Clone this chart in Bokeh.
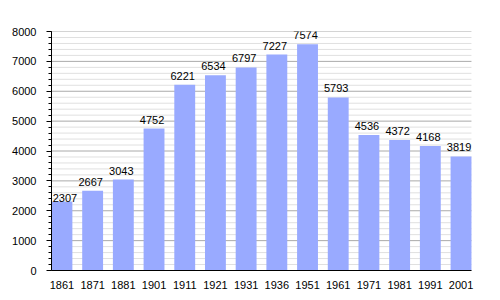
from bokeh.plotting import figure
from bokeh.models import ColumnDataSource, Range1d, FixedTicker, LabelSet
from bokeh.core.properties import value
from bokeh.embed import file_html
from bokeh.resources import INLINE

years = ["1861", "1871", "1881", "1901", "1911", "1921", "1931", "1936", "1951", "1961", "1971", "1981", "1991", "2001"]
population = [2307, 2667, 3043, 4752, 6221, 6534, 6797, 7227, 7574, 5793, 4536, 4372, 4168, 3819]
y_ticks = [0, 1000, 2000, 3000, 4000, 5000, 6000, 7000, 8000]
y_minor = [v for v in range(0, 8001, 200) if v % 1000 != 0]

BAR_W = 0.68
PAD = 0.49  # extra room at right so the last label is not clipped
xs = list(range(len(years)))
x_lo, x_hi = -BAR_W / 2, len(years) - 1 + BAR_W / 2

# first label is nudged inside the plot area (as in the original), others sit slightly left/above
dx = [3 if i == 0 else -2 for i in xs]
dy = [0 if i == 0 else 5 for i in xs]
src = ColumnDataSource(dict(x=xs, top=population, label=[str(v) for v in population], dx=dx, dy=dy))

p = figure(width=500, height=300, output_backend="svg", toolbar_location=None,
           x_range=Range1d(x_lo, x_hi + PAD),
           y_range=Range1d(0, 8000),
           min_border_left=51, min_border_right=14, min_border_top=31, min_border_bottom=30)
p.outline_line_color = None
p.background_fill_color = "white"
p.xgrid.grid_line_color = None
p.ygrid.grid_line_color = None

# grid lines limited to the bar area
p.segment(x0=[x_lo] * len(y_minor), x1=[x_hi] * len(y_minor), y0=y_minor, y1=y_minor,
          line_color="#e0e0e0", line_width=1)
p.segment(x0=[x_lo] * len(y_ticks), x1=[x_hi] * len(y_ticks), y0=y_ticks, y1=y_ticks,
          line_color="#aaaaaa", line_width=1)

p.vbar(x="x", top="top", width=BAR_W, bottom=0, source=src,
       fill_color="#99aaff", line_color=None)

labels = LabelSet(x="x", y="top", text="label", source=src, text_align="center",
                  text_baseline="bottom", y_offset="dy", x_offset="dx",
                  text_font=value("Liberation Sans"), text_font_size="11px", text_color="black")
p.add_layout(labels)

# y axis
p.yaxis.ticker = FixedTicker(ticks=y_ticks, minor_ticks=list(range(0, 8001, 200)))
p.yaxis.major_label_text_font = "Liberation Sans"
p.yaxis.major_label_text_font_size = "11px"
p.yaxis.major_label_text_color = "black"
p.yaxis.axis_line_color = "black"
p.yaxis.major_tick_in = 0
p.yaxis.major_tick_out = 5
p.yaxis.minor_tick_in = 0
p.yaxis.minor_tick_out = 3
p.yaxis.major_label_standoff = 10

# x axis
p.xaxis.ticker = FixedTicker(ticks=xs)
p.xaxis.bounds = (x_lo, x_hi)
p.xaxis.major_label_overrides = {i: y for i, y in enumerate(years)}
p.xaxis.major_label_text_font = "Liberation Sans"
p.xaxis.major_label_text_font_size = "11px"
p.xaxis.major_label_text_color = "black"
p.xaxis.axis_line_color = "black"
p.xaxis.major_tick_line_color = None
p.xaxis.minor_tick_line_color = None
p.xaxis.major_label_standoff = 4

open("out.html", "w").write(file_html(p, INLINE))
